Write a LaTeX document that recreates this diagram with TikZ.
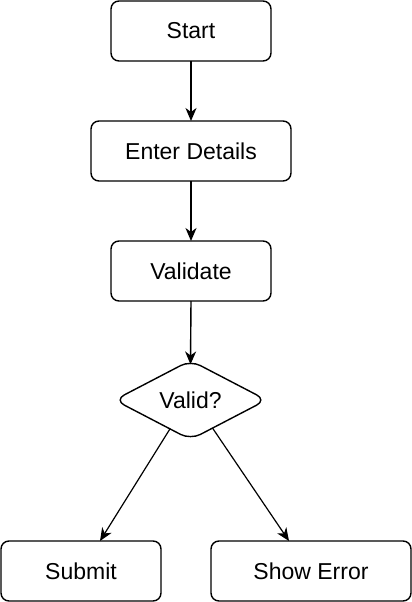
\documentclass[tikz,border=0pt]{standalone}
\usepackage{fontspec}
\setmainfont{Liberation Sans}
\usetikzlibrary{shapes.geometric,arrows.meta,calc}
\tikzset{
  box/.style={draw, line width=1.4pt, rounded corners=8pt, minimum width=160pt, minimum height=60pt, inner sep=0pt, outer sep=0pt, font=\fontsize{23}{26}\selectfont},
  decision/.style={draw, line width=1.4pt, diamond, rounded corners=11pt, minimum width=152pt, minimum height=78pt, inner sep=0pt, outer sep=0pt, font=\fontsize{23}{26}\selectfont},
  flow/.style={line width=1.4pt, -{Stealth[length=13pt,width=11pt,inset=4pt]}},
  diag/.style={line width=1.2pt, -{Stealth[length=13pt,width=11pt,inset=4pt]}}
}
\begin{document}
\begin{tikzpicture}[x=1pt,y=-1pt]
\useasboundingbox (0,0) rectangle (412,602);
\node[box] (start) at (191,31) {Start};
\node[box, minimum width=200pt] (enter) at (191,151) {Enter Details};
\node[box] (validate) at (191,271) {Validate};
\node[decision] (valid) at (190.5,400) {Valid?};
\node[box] (submit) at (81,571) {Submit};
\node[box, minimum width=200pt] (error) at (311,571) {Show Error};
\draw[flow] (start) -- (enter);
\draw[flow] (enter) -- (validate);
\draw[flow] (validate.south) -- ([yshift=-4pt]valid.north);
\draw[diag] ($(valid.south)!0.27!(valid.west)$) -- ([xshift=19pt]submit.north);
\draw[diag] ($(valid.south)!0.29!(valid.east)$) -- ([xshift=-22pt]error.north);
\end{tikzpicture}
\end{document}
